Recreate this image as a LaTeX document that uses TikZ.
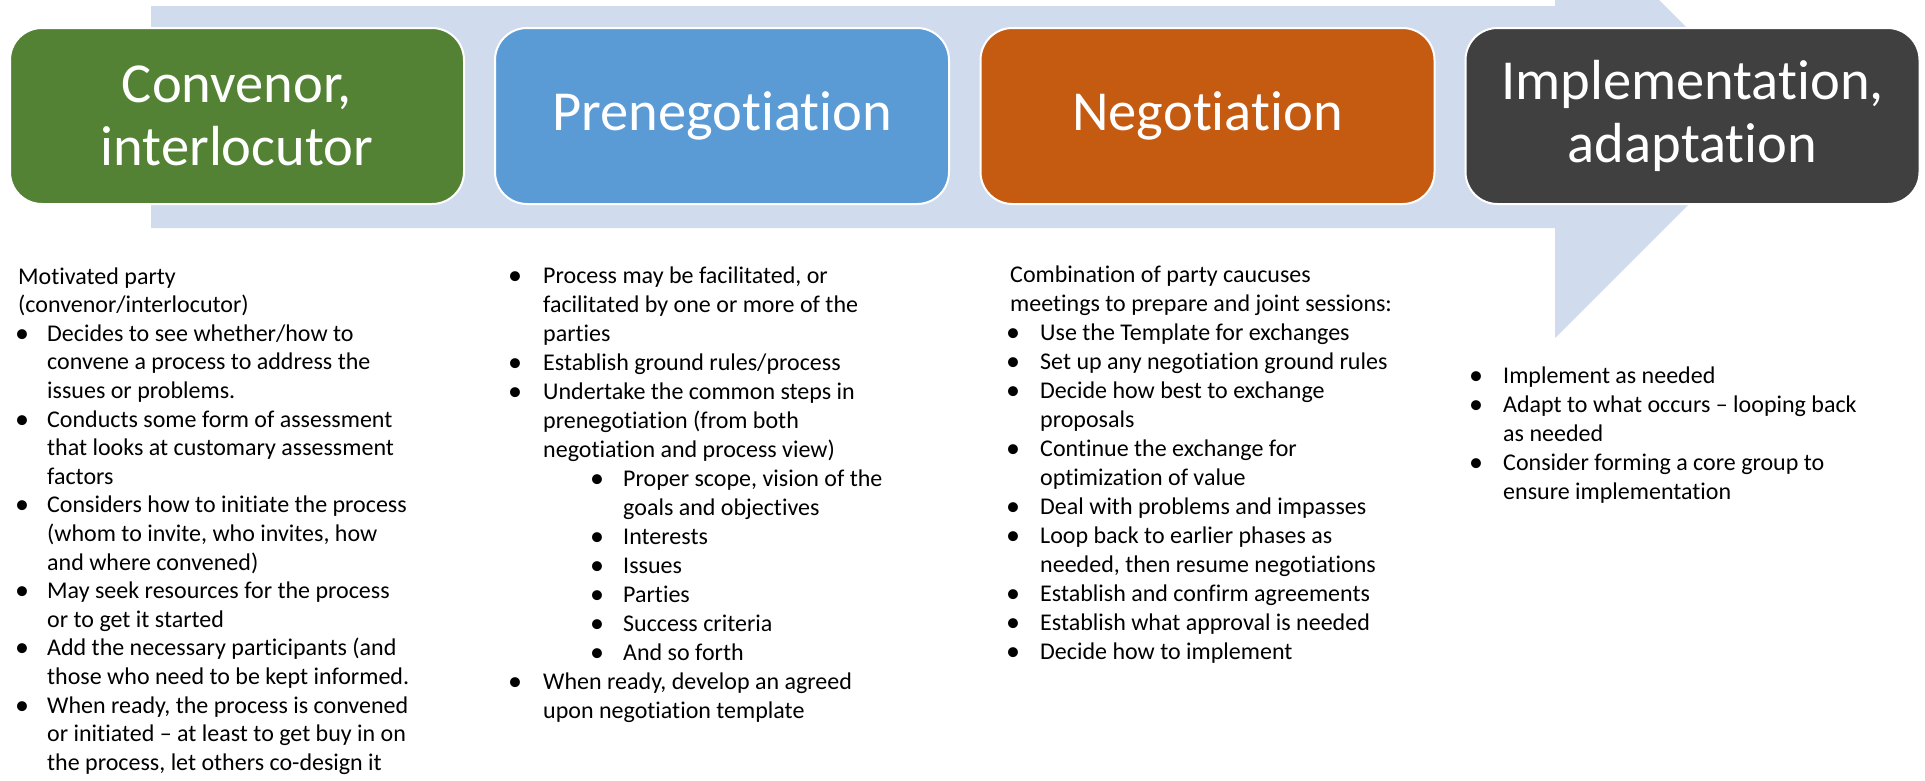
\documentclass[tikz,border=0pt]{standalone}
\usepackage{fontspec}
\setmainfont{Carlito}[Ligatures=NoCommon]
\definecolor{cband}{RGB}{208,220,238}
\definecolor{cgreen}{RGB}{84,130,53}
\definecolor{cblue}{RGB}{91,155,213}
\definecolor{corange}{RGB}{197,90,17}
\definecolor{cdark}{RGB}{64,64,64}
\newcommand\bul{\raisebox{-1pt}{\textbullet}}
\newcommand\TL[4]{\node[bt] (#1) at (#2,{#3}) {#4};}
\newcommand\BU[3]{\node[bu] (#1) at (#2,{#3}) {\bul};}
\newcommand\ya[1]{284+#1*28.6}
\newcommand\yb[1]{283+#1*29}
\newcommand\yc[1]{282+#1*29}
\newcommand\yd[1]{383+#1*29}
\tikzset{
  phase/.style={draw=white, line width=2pt, rounded corners=32pt,
    minimum width=454pt, minimum height=176pt, inner sep=0pt,
    text=white, align=center, font=\fontsize{56.5}{63}\selectfont},
  bt/.style={anchor=base west, inner sep=0pt, text=black,
    font=\fontsize{24}{29}\selectfont},
  bu/.style={anchor=base, inner sep=0pt, text=black,
    font=\fontsize{28}{29}\selectfont}
}
\begin{document}
\begin{tikzpicture}[x=1pt,y=-1pt]
\useasboundingbox (0,0) rectangle (1925,780);
\begin{scope}
\clip (0,0) rectangle (1925,780);
\fill[cband] (151,6) -- (1555,6) -- (1555,-104) -- (1776,117)
  -- (1555,338) -- (1555,228) -- (151,228) -- cycle;
\end{scope}
\node[phase, fill=cgreen] (b1) at (237,116) {Convenor,\\interlocutor};
\node[phase, fill=cblue] (b2) at (722,116) {Prenegotiation};
\node[phase, fill=corange] (b3) at (1207.5,116) {Negotiation};
\node[phase, fill=cdark] (b4) at (1692.5,116) {Implementation,\\adaptation};
% column 1
\TL{a0}{18}{\ya{0}}{Motivated party}
\TL{a1}{18}{\ya{1}}{(convenor/interlocutor)}
\BU{ab2}{22}{\ya{2}}\TL{a2}{47}{\ya{2}}{Decides to see whether/how to}
\TL{a3}{47}{\ya{3}}{convene a process to address the}
\TL{a4}{47}{\ya{4}}{issues or problems.}
\BU{ab5}{22}{\ya{5}}\TL{a5}{47}{\ya{5}}{Conducts some form of assessment}
\TL{a6}{47}{\ya{6}}{that looks at customary assessment}
\TL{a7}{47}{\ya{7}}{factors}
\BU{ab8}{22}{\ya{8}}\TL{a8}{47}{\ya{8}}{Considers how to initiate the process}
\TL{a9}{47}{\ya{9}}{(whom to invite, who invites, how}
\TL{a10}{47}{\ya{10}}{and where convened)}
\BU{ab11}{22}{\ya{11}}\TL{a11}{47}{\ya{11}}{May seek resources for the process}
\TL{a12}{47}{\ya{12}}{or to get it started}
\BU{ab13}{22}{\ya{13}}\TL{a13}{47}{\ya{13}}{Add the necessary participants (and}
\TL{a14}{47}{\ya{14}}{those who need to be kept informed.}
\BU{ab15}{22}{\ya{15}}\TL{a15}{47}{\ya{15}}{When ready, the process is convened}
\TL{a16}{47}{\ya{16}}{or initiated – at least to get buy in on}
\TL{a17}{47}{\ya{17}}{the process, let others co-design it}
% column 2
\BU{bb0}{515}{\yb{0}}\TL{c0}{543}{\yb{0}}{Process may be facilitated, or}
\TL{c1}{543}{\yb{1}}{facilitated by one or more of the}
\TL{c2}{543}{\yb{2}}{parties}
\BU{bb3}{515}{\yb{3}}\TL{c3}{543}{\yb{3}}{Establish ground rules/process}
\BU{bb4}{515}{\yb{4}}\TL{c4}{543}{\yb{4}}{Undertake the common steps in}
\TL{c5}{543}{\yb{5}}{prenegotiation (from both}
\TL{c6}{543}{\yb{6}}{negotiation and process view)}
\BU{bb7}{597}{\yb{7}}\TL{c7}{623}{\yb{7}}{Proper scope, vision of the}
\TL{c8}{623}{\yb{8}}{goals and objectives}
\BU{bb9}{597}{\yb{9}}\TL{c9}{623}{\yb{9}}{Interests}
\BU{bb10}{597}{\yb{10}}\TL{c10}{623}{\yb{10}}{Issues}
\BU{bb11}{597}{\yb{11}}\TL{c11}{623}{\yb{11}}{Parties}
\BU{bb12}{597}{\yb{12}}\TL{c12}{623}{\yb{12}}{Success criteria}
\BU{bb13}{597}{\yb{13}}\TL{c13}{623}{\yb{13}}{And so forth}
\BU{bb14}{515}{\yb{14}}\TL{c14}{543}{\yb{14}}{When ready, develop an agreed}
\TL{c15}{543}{\yb{15}}{upon negotiation template}
% column 3
\TL{d0}{1010}{\yc{0}}{Combination of party caucuses}
\TL{d1}{1010}{\yc{1}}{meetings to prepare and joint sessions:}
\BU{db2}{1013}{\yc{2}}\TL{d2}{1040}{\yc{2}}{Use the Template for exchanges}
\BU{db3}{1013}{\yc{3}}\TL{d3}{1040}{\yc{3}}{Set up any negotiation ground rules}
\BU{db4}{1013}{\yc{4}}\TL{d4}{1040}{\yc{4}}{Decide how best to exchange}
\TL{d5}{1040}{\yc{5}}{proposals}
\BU{db6}{1013}{\yc{6}}\TL{d6}{1040}{\yc{6}}{Continue the exchange for}
\TL{d7}{1040}{\yc{7}}{optimization of value}
\BU{db8}{1013}{\yc{8}}\TL{d8}{1040}{\yc{8}}{Deal with problems and impasses}
\BU{db9}{1013}{\yc{9}}\TL{d9}{1040}{\yc{9}}{Loop back to earlier phases as}
\TL{d10}{1040}{\yc{10}}{needed, then resume negotiations}
\BU{db11}{1013}{\yc{11}}\TL{d11}{1040}{\yc{11}}{Establish and confirm agreements}
\BU{db12}{1013}{\yc{12}}\TL{d12}{1040}{\yc{12}}{Establish what approval is needed}
\BU{db13}{1013}{\yc{13}}\TL{d13}{1040}{\yc{13}}{Decide how to implement}
% column 4
\BU{eb0}{1476}{\yd{0}}\TL{e0}{1503}{\yd{0}}{Implement as needed}
\BU{eb1}{1476}{\yd{1}}\TL{e1}{1503}{\yd{1}}{Adapt to what occurs – looping back}
\TL{e2}{1503}{\yd{2}}{as needed}
\BU{eb3}{1476}{\yd{3}}\TL{e3}{1503}{\yd{3}}{Consider forming a core group to}
\TL{e4}{1503}{\yd{4}}{ensure implementation}
\end{tikzpicture}
\end{document}
